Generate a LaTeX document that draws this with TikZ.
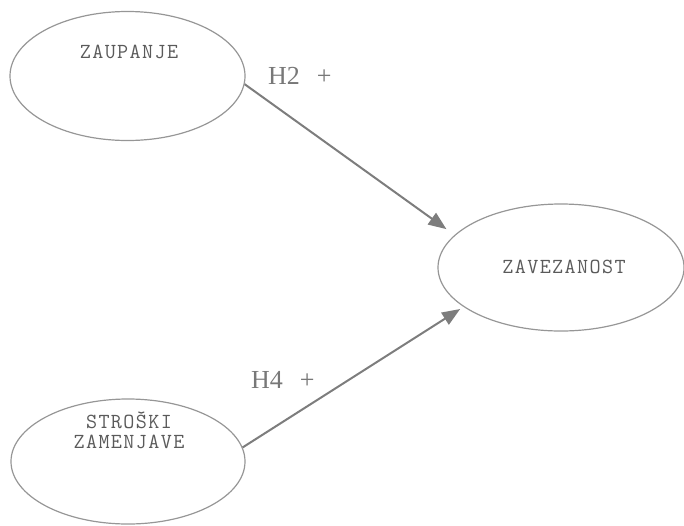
\documentclass[tikz,border=0pt]{standalone}
\usepackage{fontspec}
\setmainfont{Liberation Serif}
\newfontfamily\conceptfont{Latin Modern Mono}[LetterSpace=6.5]
\usetikzlibrary{arrows.meta,shapes.geometric}

\definecolor{bubblegray}{RGB}{150,150,150}
\definecolor{textgray}{RGB}{90,90,90}
\definecolor{hypgray}{RGB}{120,120,120}
\definecolor{arrowgray}{RGB}{125,125,125}

\begin{document}
\begin{tikzpicture}[x=1pt,y=-1pt,
  bubble/.style={draw=bubblegray, line width=1.2pt, ellipse, inner sep=0pt},
  concept/.style={font=\conceptfont\fontsize{21.5}{20}\selectfont, text=textgray,
    inner sep=0pt, align=center, anchor=base},
  hyp/.style={font=\fontsize{26}{28}\selectfont, text=hypgray, inner sep=0pt,
    anchor=base west},
  link/.style={draw=arrowgray, line width=2pt,
    -{Triangle[length=18pt,width=14pt]}}]
  \useasboundingbox (0,0) rectangle (684,525);

  % constructs
  \node[bubble, minimum width=235pt, minimum height=129pt] (zaupanje) at (127.5,76) {};
  \node[bubble, minimum width=246pt, minimum height=127pt] (zavezanost) at (561,267.5) {};
  \node[bubble, minimum width=234pt, minimum height=125pt] (stroski) at (128,461.5) {};

  \node[concept] (zaupanje-t) at (129,58) {ZAUPANJE};
  \node[concept] (zavezanost-t) at (564,273) {ZAVEZANOST};
  \node[concept] (stroski-t) at (129,448) {STROŠKI\\ZAMENJAVE};

  % hypotheses
  \draw[link, shorten >=10pt] (zaupanje.-4) -- (zavezanost.163.7);
  \draw[link, shorten >=4pt] (stroski.7) -- (zavezanost.202.7);

  \node[hyp] (h2) at (268,84) {H2\hspace{17pt}+};
  \node[hyp] (h4) at (251,388) {H4\hspace{17pt}+};
\end{tikzpicture}
\end{document}
